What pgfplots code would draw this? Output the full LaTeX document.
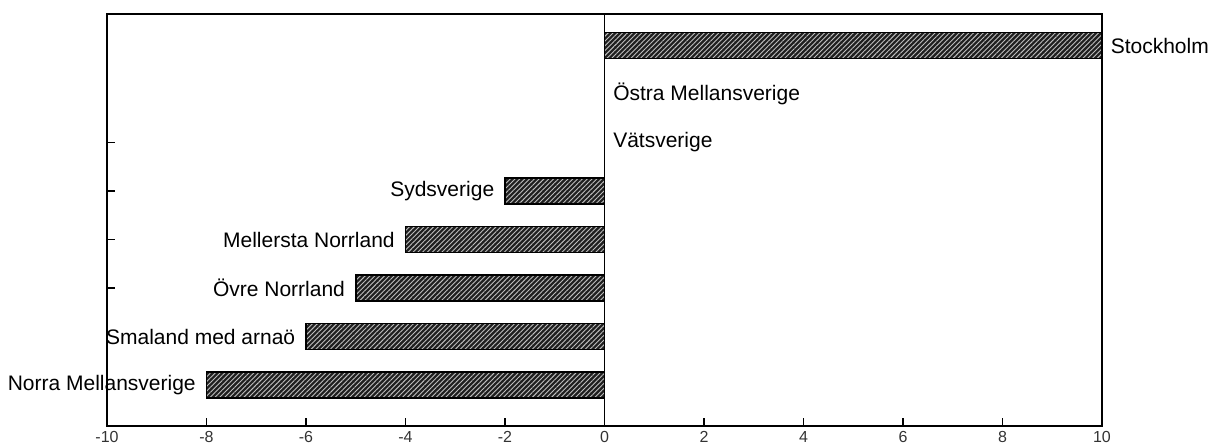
\documentclass[border=0pt]{standalone}
\usepackage{pgfplots}
\pgfplotsset{compat=1.18}
\usepackage{fontspec}
\setmainfont{Liberation Sans}
\usetikzlibrary{patterns.meta}
\begin{document}
\begin{tikzpicture}[x=1pt,y=1pt]
\useasboundingbox (-53.5,-9) rectangle (555,213);
\begin{axis}[
  at={(0,0)}, anchor=south west,
  scale only axis, width=497.5pt, height=206pt,
  xmin=-10, xmax=10, ymin=-0.845, ymax=7.65,
  xbar, bar width=13pt, bar shift=0pt,
  axis line style={black, line width=0.8pt},
  xtick={-10,-8,-6,-4,-2,0,2,4,6,8,10},
  xticklabels={-10,-8,-6,-4,-2,0,2,4,6,8,10},
  xtick pos=bottom, xtick align=inside,
  major tick length=4pt,
  ytick={2,3,4,5}, yticklabels={},
  ytick pos=left, ytick align=inside,
  tick style={black, line width=0.6pt},
  xticklabel style={font=\fontsize{8}{9}\selectfont, text=black!80, yshift=1pt},
  extra x ticks={0}, extra x tick labels={},
  extra x tick style={grid=major, major grid style={black, line width=0.8pt}},
  nodes near coords,
  point meta=explicit symbolic,
  clip=false,
  barstyle/.style={draw=black, line width=0.8pt, fill=black!88,
    postaction={pattern={Lines[angle=45,distance=1.7pt,line width=0.45pt]}, pattern color=white!75!black}},
]
\addplot[barstyle,
  nodes near coords style={anchor=east, font=\fontsize{10.5}{12}\selectfont, black, inner sep=0pt, xshift=-5pt}]
  table[x=x, y=y, meta=label, col sep=comma] {
x,y,label
-8,0,Norra Mellansverige
-6,1,Smaland med arnaö
-5,2,Övre Norrland
-4,3,Mellersta Norrland
-2,4,Sydsverige
};
\addplot[barstyle,
  nodes near coords style={anchor=west, font=\fontsize{10.5}{12}\selectfont, black, inner sep=0pt, xshift=4pt}]
  table[x=x, y=y, meta=label, col sep=comma] {
x,y,label
0,5,Vätsverige
0,6,Östra Mellansverige
10,7,Stockholm
};
\end{axis}
\end{tikzpicture}
\end{document}
